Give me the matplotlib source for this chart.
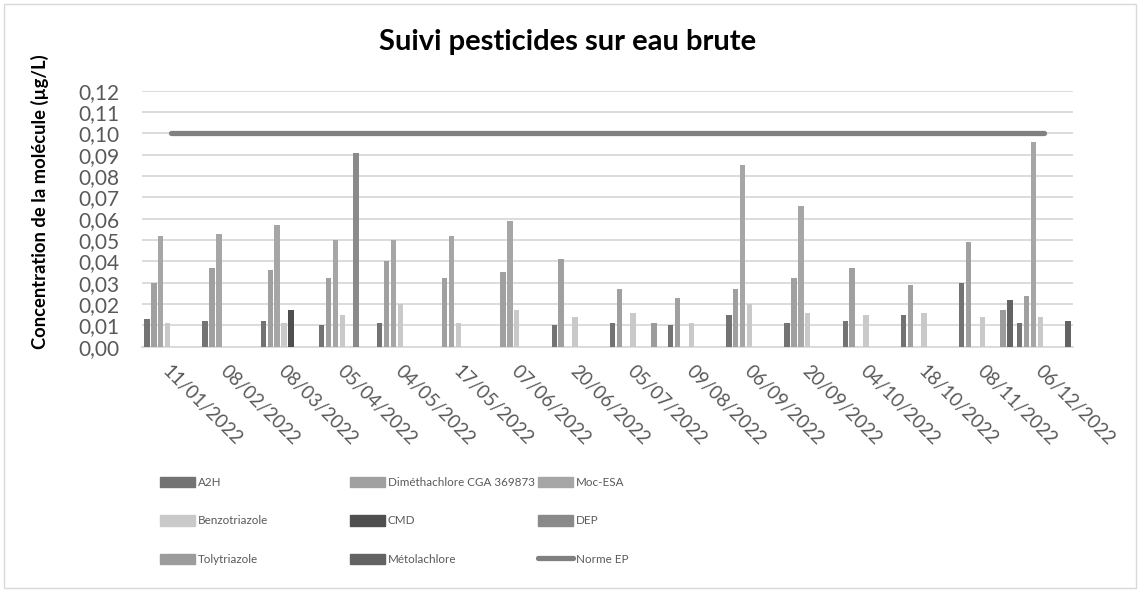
import numpy as np
import matplotlib.pyplot as plt
from matplotlib.patches import Patch, Rectangle
from matplotlib.lines import Line2D
from matplotlib.ticker import FuncFormatter

nan = np.nan

dates = ['11/01/2022', '08/02/2022', '08/03/2022', '05/04/2022', '04/05/2022', '17/05/2022',
         '07/06/2022', '20/06/2022', '05/07/2022', '09/08/2022', '06/09/2022', '20/09/2022',
         '04/10/2022', '18/10/2022', '08/11/2022', '06/12/2022']

a2h = [0.013, 0.012, 0.012, 0.010, 0.011, nan, nan, 0.010, 0.011, 0.010, 0.015, 0.011, 0.012, 0.015, 0.030, 0.011]
dimethachlore = [0.030, 0.037, 0.036, 0.032, 0.040, 0.032, 0.035, 0.041, 0.027, 0.023, 0.027, 0.032, 0.037, 0.029, 0.049, 0.024]
moc_esa = [0.052, 0.053, 0.057, 0.050, 0.050, 0.052, 0.059, nan, nan, nan, 0.085, 0.066, nan, nan, nan, 0.096]
benzotriazole = [0.011, nan, 0.011, 0.015, 0.020, 0.011, 0.017, 0.014, 0.016, 0.011, 0.020, 0.016, 0.015, 0.016, 0.014, 0.014]
cmd = [nan, nan, 0.017, nan, nan, nan, nan, nan, nan, nan, nan, nan, nan, nan, nan, nan]
dep = [nan, nan, nan, 0.091, nan, nan, nan, nan, nan, nan, nan, nan, nan, nan, nan, nan]
tolytriazole = [nan, nan, nan, nan, nan, nan, nan, nan, 0.011, nan, nan, nan, nan, nan, 0.017, nan]
metolachlore = [nan, nan, nan, nan, nan, nan, nan, nan, nan, nan, nan, nan, nan, nan, 0.022, 0.012]
norme_ep = 0.10

series_names = ['A2H', 'Diméthachlore CGA 369873', 'Moc-ESA', 'Benzotriazole', 'CMD', 'DEP',
                'Tolytriazole', 'Métolachlore']
series_vals = [a2h, dimethachlore, moc_esa, benzotriazole, cmd, dep, tolytriazole, metolachlore]
colors = ['#737373', '#a0a0a0', '#a6a6a6', '#c9c9c9', '#4f4f4f', '#8a8a8a', '#9c9c9c', '#636363']

plt.rcParams['font.family'] = ['Lato', 'DejaVu Sans']

W, H = 1144, 592
fig = plt.figure(figsize=(W / 100, H / 100), dpi=100)
ax = fig.add_axes([142 / W, 1 - 346.7 / H, 931 / W, 256 / H])

x = np.arange(len(dates))
group = 0.948
pitch = group / len(series_vals)
for k, (name, vals, c) in enumerate(zip(series_names, series_vals, colors)):
    off = -group / 2 + pitch * (k + 0.5)
    ax.bar(x + off, vals, width=pitch * 0.78, color=c, label=name, zorder=3)

ax.plot([x[0], x[-1]], [norme_ep, norme_ep], color='#808080', lw=3.8,
        solid_capstyle='round', zorder=4)

ax.set_xlim(-0.5, len(dates) - 0.5)
ax.set_ylim(0, 0.12)
ax.set_yticks(np.arange(0, 0.121, 0.01))
ax.yaxis.set_major_formatter(FuncFormatter(lambda v, p: '{:.2f}'.format(v).replace('.', ',')))
ax.grid(axis='y', color='#d9d9d9', lw=1.3, zorder=0)
for s in ['top', 'right', 'left']:
    ax.spines[s].set_visible(False)
ax.spines['bottom'].set_color('#d9d9d9')
ax.spines['bottom'].set_linewidth(1.3)
ax.tick_params(length=0)
ax.tick_params(axis='y', labelsize=15, labelcolor='#595959', pad=16.5)
ax.set_xticks(x)
ax.set_xticklabels(dates, rotation=-45, ha='left', va='top', rotation_mode='anchor',
                   fontsize=13.5, color='#595959')
ax.tick_params(axis='x', pad=11)

fig.text(568 / W, 1 - 42 / H, 'Suivi pesticides sur eau brute', ha='center', va='center',
         fontsize=21, fontweight='bold', color='black')
fig.text(40 / W, 1 - 202 / H, 'Concentration de la molécule (µg/L)', rotation=90,
         ha='center', va='center', fontsize=13.2, fontweight='bold', color='black')

# legend, laid out row by row like the original
handles = [Patch(color=c) for c in colors] + [
    Line2D([0], [0], color='#808080', lw=3.8, solid_capstyle='round')]
labels = series_names + ['Norme EP']
col_x = [160, 350, 538]
for j in range(3):
    idx = [j, j + 3, j + 6]
    fig.legend([handles[i] for i in idx], [labels[i] for i in idx], loc='upper left',
               bbox_to_anchor=(col_x[j] / W, 1 - 477 / H), frameon=False, borderpad=0,
               borderaxespad=0, fontsize=8.4, handlelength=3.0, handleheight=0.95,
               handletextpad=0.25, labelspacing=2.35, labelcolor='#595959')

fig.add_artist(Rectangle((4 / W, 4 / H), 1132 / W, 584 / H, transform=fig.transFigure,
                         fill=False, edgecolor='#d9d9d9', lw=1))

fig.savefig('out.png', dpi=100)
